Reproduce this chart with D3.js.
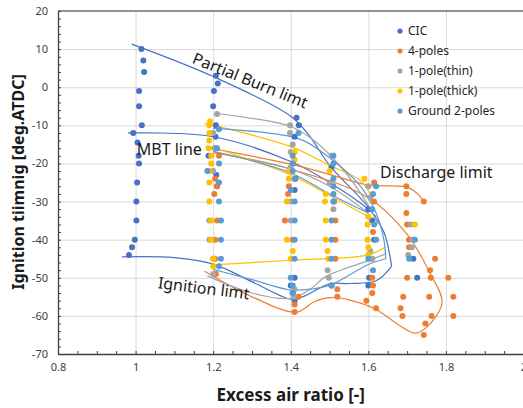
<!DOCTYPE html>
<html>
<head>
<meta charset="utf-8">
<script src="https://cdn.jsdelivr.net/npm/d3@7"></script>
<style>
  body { margin: 0; background: #fff; }
  text { font-family: "Noto Sans", sans-serif; }
</style>
</head>
<body>
<div id="root"></div>
<script>
// axis ticks
const xTicks = [0.8, 1.0, 1.2, 1.4, 1.6, 1.8, 2.0];
const yTicks = [20, 10, 0, -10, -20, -30, -40, -50, -60, -70];

const seriesNames = ["CIC", "4-poles", "1-pole(thin)", "1-pole(thick)", "Ground 2-poles"];
const seriesColors = ["#4472C4", "#ED7D31", "#A5A5A5", "#FFC000", "#5B9BD5"];

// measured points [excess air ratio, ignition timing]
const cicPoints = [
  [1.015, 10], [1.02, 7], [1.022, 4], [1.009, -1], [1.009, -5], [1.016, -10], [0.994, -12],
  [1.005, -14.5], [1.008, -18], [1.009, -20], [1.004, -25], [1.002, -30], [1.002, -35],
  [0.998, -40], [0.991, -42], [0.983, -44],
  [1.207, 3], [1.212, 1], [1.202, -1], [1.2, -5], [1.207, -10], [1.206, -13], [1.205, -16],
  [1.188, -18], [1.208, -23], [1.21, -26],
  [1.415, -8], [1.421, -10], [1.41, -13], [1.405, -20], [1.412, -24], [1.41, -27],
  [1.41, -50], [1.4, -52], [1.405, -54], [1.41, -56],
  [1.505, -21], [1.505, -52],
  [1.6, -32], [1.61, -35], [1.615, -40], [1.602, -50], [1.6, -52],
  [1.716, -45], [1.726, -50]
];
const fourPolePoints = [
  [1.215, -18], [1.205, -24], [1.21, -26], [1.203, -28], [1.21, -35], [1.205, -40], [1.205, -45], [1.207, -49],
  [1.395, -26], [1.393, -28], [1.385, -35], [1.405, -40], [1.42, -55], [1.41, -57], [1.41, -59],
  [1.512, -30], [1.515, -35], [1.515, -40], [1.515, -45], [1.52, -53], [1.52, -55],
  [1.615, -25], [1.615, -30], [1.612, -38], [1.61, -45], [1.61, -50], [1.612, -52], [1.61, -54],
  [1.595, -56], [1.62, -58],
  [1.698, -26], [1.698, -28], [1.698, -33], [1.7, -36], [1.705, -40], [1.705, -42], [1.7, -50],
  [1.69, -55], [1.683, -58], [1.688, -60],
  [1.743, -30], [1.772, -45], [1.759, -48], [1.761, -50], [1.757, -55], [1.763, -60],
  [1.747, -62], [1.743, -65], [1.806, -50], [1.819, -55], [1.819, -60]
];
const thinPolePoints = [
  [1.21, -7], [1.2, -12], [1.205, -16], [1.2, -22], [1.19, -35], [1.19, -40], [1.2, -45], [1.2, -49],
  [1.398, -10], [1.398, -12], [1.405, -15], [1.4, -17], [1.4, -21], [1.4, -30], [1.4, -35],
  [1.41, -53], [1.408, -55],
  [1.505, -18], [1.5, -25], [1.51, -30], [1.51, -32], [1.495, -48], [1.498, -50],
  [1.6, -26], [1.605, -29], [1.605, -43], [1.61, -45],
  [1.71, -36], [1.715, -40], [1.712, -42], [1.703, -44]
];
const thickPolePoints = [
  [1.192, -9], [1.19, -10], [1.19, -12], [1.19, -14], [1.188, -16], [1.195, -18], [1.195, -20],
  [1.19, -22], [1.19, -25], [1.19, -30], [1.195, -35], [1.195, -40], [1.2, -45], [1.2, -47],
  [1.41, -17], [1.41, -19], [1.395, -22], [1.395, -24], [1.39, -30], [1.39, -40], [1.405, -43], [1.4, -45],
  [1.5, -22], [1.49, -28], [1.488, -30], [1.49, -35], [1.49, -40], [1.495, -43], [1.497, -45],
  [1.59, -24], [1.6, -34], [1.598, -36], [1.598, -40], [1.6, -42], [1.6, -44],
  [1.72, -36]
];
const groundPolePoints = [
  [1.215, -11], [1.21, -16], [1.215, -20], [1.185, -22], [1.215, -25], [1.215, -30], [1.22, -35],
  [1.22, -40], [1.22, -45], [1.215, -47],
  [1.42, -12], [1.405, -18], [1.405, -20], [1.405, -22], [1.41, -24], [1.4, -27], [1.41, -30],
  [1.41, -35], [1.41, -40], [1.41, -45], [1.4, -50], [1.405, -52], [1.405, -54],
  [1.51, -18], [1.51, -20], [1.51, -24], [1.51, -26], [1.51, -28], [1.51, -30], [1.505, -35],
  [1.505, -40], [1.505, -45], [1.505, -52],
  [1.62, -26], [1.612, -28], [1.61, -32], [1.615, -36], [1.62, -40], [1.6, -45], [1.612, -48],
  [1.705, -45], [1.72, -40]
];

// limit / MBT curves
const cicUpper = [[0.99, 11.3], [1.2, 2.8], [1.4, -7.6], [1.45, -13], [1.5, -20.5], [1.6, -31.5], [1.64, -38], [1.66, -47]];
const cicLower = [[1.66, -47], [1.62, -50.8], [1.55, -51.5], [1.5, -51.6], [1.43, -55], [1.4, -55.6], [1.3, -51], [1.2, -46.4], [1.1, -44.7], [0.965, -44.5]];
const cicMbt = [[0.98, -12], [1.2, -13], [1.4, -19.5], [1.5, -25], [1.6, -32], [1.62, -34]];
const fourUpper = [[1.19, -16], [1.4, -20.2], [1.51, -23.2], [1.6, -25.7], [1.66, -25.9], [1.7, -26.2], [1.725, -27.8], [1.743, -30]];
const fourLoop = [[1.2, -17.2], [1.4, -21.5], [1.6, -29], [1.7, -38.6], [1.76, -49], [1.79, -56.5], [1.75, -63], [1.72, -64.5],
  [1.68, -62.5], [1.62, -58.3], [1.55, -55.8], [1.5, -55.2], [1.46, -56.3], [1.415, -59], [1.3, -55], [1.178, -48.3]];
const thinUpper = [[1.208, -6.9], [1.4, -10.3], [1.46, -14], [1.53, -21], [1.6, -31], [1.625, -36]];
const thinMbt = [[1.2, -17], [1.4, -21.5], [1.5, -26], [1.6, -33]];
const thinLower = [[1.185, -49.5], [1.3, -54], [1.4, -55.4], [1.45, -53], [1.49, -49.7], [1.6, -45.5], [1.643, -43.8]];
const thickUpper = [[1.178, -9.5], [1.4, -15.6], [1.5, -20.5], [1.58, -24.5], [1.61, -29]];
const thickMbt = [[1.19, -15.5], [1.4, -23], [1.49, -27.8], [1.6, -34]];
const thickLower = [[1.2, -46.6], [1.4, -45.4], [1.6, -44], [1.643, -42]];
const groundUpper = [[1.2, -10.8], [1.42, -13.5], [1.5, -18.5], [1.58, -26], [1.62, -33], [1.64, -40], [1.645, -45]];
const groundMbt = [[1.2, -16.8], [1.4, -22.5], [1.5, -28], [1.6, -33]];
const groundLower = [[1.645, -45], [1.6, -46.5], [1.5, -52], [1.45, -53], [1.4, -53.2], [1.3, -50.5], [1.2, -47.8]];

const seriesPoints = [cicPoints, fourPolePoints, thinPolePoints, thickPolePoints, groundPolePoints];
const seriesLines = [
  [cicUpper, cicLower, cicMbt],
  [fourUpper, fourLoop],
  [thinUpper, thinMbt, thinLower],
  [thickUpper, thickMbt, thickLower],
  [groundUpper, groundMbt, groundLower]
];

const width = 523, height = 408;
const plotLeft = 58, plotRight = 523.5, plotTop = 11, plotBottom = 354;

const x = d3.scaleLinear().domain([0.8, 2.0]).range([plotLeft, plotRight]);
const y = d3.scaleLinear().domain([-70, 20]).range([plotBottom, plotTop]);

const svg = d3.select("#root").append("svg")
  .attr("width", width)
  .attr("height", height);

svg.append("defs").append("clipPath").attr("id", "plot")
  .append("rect").attr("x", plotLeft).attr("y", plotTop - 4)
  .attr("width", plotRight - plotLeft).attr("height", plotBottom - plotTop + 4);

// gridlines
svg.append("g")
  .attr("transform", `translate(0,${plotBottom})`)
  .call(d3.axisBottom(x).tickValues(xTicks.slice(1)).tickSize(-(plotBottom - plotTop)).tickFormat(""))
  .call(g => g.select(".domain").remove())
  .call(g => g.selectAll("line").attr("stroke", "#d9d9d9"));
svg.append("g")
  .attr("transform", `translate(${plotLeft},0)`)
  .call(d3.axisLeft(y).tickValues(yTicks.slice(1, -1)).tickSize(-(plotRight - plotLeft)).tickFormat(""))
  .call(g => g.select(".domain").remove())
  .call(g => g.selectAll("line").attr("stroke", "#d9d9d9"));

// top frame line
svg.append("line")
  .attr("x1", plotLeft).attr("x2", plotRight).attr("y1", y(20)).attr("y2", y(20))
  .attr("stroke", "#6f6f6f").attr("stroke-width", 1.3);

// minor ticks (inside)
svg.append("g")
  .attr("transform", `translate(0,${plotBottom})`)
  .call(d3.axisBottom(x).tickValues(d3.range(0.8, 2.0001, 0.05)).tickSize(-3).tickFormat(""))
  .call(g => g.select(".domain").remove())
  .call(g => g.selectAll("line").attr("stroke", "#404040"));
svg.append("g")
  .attr("transform", `translate(${plotLeft},0)`)
  .call(d3.axisLeft(y).tickValues(d3.range(-70, 20.001, 2)).tickSize(-3).tickFormat(""))
  .call(g => g.select(".domain").remove())
  .call(g => g.selectAll("line").attr("stroke", "#404040"));

// axes
svg.append("g")
  .attr("transform", `translate(0,${plotBottom})`)
  .call(d3.axisBottom(x).tickValues(xTicks).tickSize(0).tickPadding(9).tickFormat(d3.format("~g")))
  .call(g => g.select(".domain").attr("stroke", "#404040").attr("stroke-width", 1.3))
  .call(g => g.selectAll("text").attr("fill", "#404040").style("font-size", "11px"));
svg.append("g")
  .attr("transform", `translate(${plotLeft},0)`)
  .call(d3.axisLeft(y).tickValues(yTicks).tickSize(0).tickPadding(10).tickFormat(d => String(d)))
  .call(g => g.select(".domain").attr("stroke", "#404040").attr("stroke-width", 1.3))
  .call(g => g.selectAll("text").attr("fill", "#404040").style("font-size", "11px"));

// axis titles
svg.append("text")
  .attr("x", x(1.4)).attr("y", 401)
  .attr("text-anchor", "middle")
  .style("font-size", "17px").style("font-weight", "bold").attr("fill", "#1a1a1a")
  .text("Excess air ratio [-]");
svg.append("text")
  .attr("transform", `translate(24,${182}) rotate(-90)`)
  .attr("text-anchor", "middle")
  .style("font-size", "16px").style("font-weight", "bold").attr("fill", "#1a1a1a")
  .text("Ignition tiimnig [deg.ATDC]");

// curves and points
const line = d3.line()
  .x(d => x(d[0]))
  .y(d => y(d[1]))
  .curve(d3.curveCatmullRom.alpha(0.5));

const plot = svg.append("g").attr("clip-path", "url(#plot)");

seriesLines.forEach((lines, i) => {
  plot.selectAll(null)
    .data(lines)
    .join("path")
    .attr("d", line)
    .attr("fill", "none")
    .attr("stroke", seriesColors[i])
    .attr("stroke-width", 1.2);
});

seriesPoints.forEach((pts, i) => {
  plot.selectAll(null)
    .data(pts)
    .join("circle")
    .attr("cx", d => x(d[0]))
    .attr("cy", d => y(d[1]))
    .attr("r", 3)
    .attr("fill", seriesColors[i]);
});

// annotations
const notes = svg.append("g").attr("fill", "#1a1a1a").style("font-size", "16px");
notes.append("text")
  .attr("transform", `translate(${x(1.29)},${y(0.4)}) rotate(22)`)
  .attr("text-anchor", "middle")
  .text("Partial Burn limt");
notes.append("text")
  .attr("x", x(1.003)).attr("y", y(-17.8))
  .text("MBT line");
notes.append("text")
  .attr("x", x(1.63)).attr("y", y(-23.8))
  .text("Discharge limit");
notes.append("text")
  .attr("transform", `translate(${x(1.174)},${y(-54.2)}) rotate(7)`)
  .attr("text-anchor", "middle")
  .text("Ignition limt");

// legend
const legend = svg.append("g").attr("transform", "translate(400,31)");
seriesNames.forEach((name, i) => {
  const row = legend.append("g").attr("transform", `translate(0,${i * 20})`);
  row.append("circle").attr("r", 2.6).attr("fill", seriesColors[i]);
  row.append("text").attr("x", 8).attr("dy", "0.35em")
    .style("font-size", "12px").attr("fill", "#262626").text(name);
});
</script>
</body>
</html>
